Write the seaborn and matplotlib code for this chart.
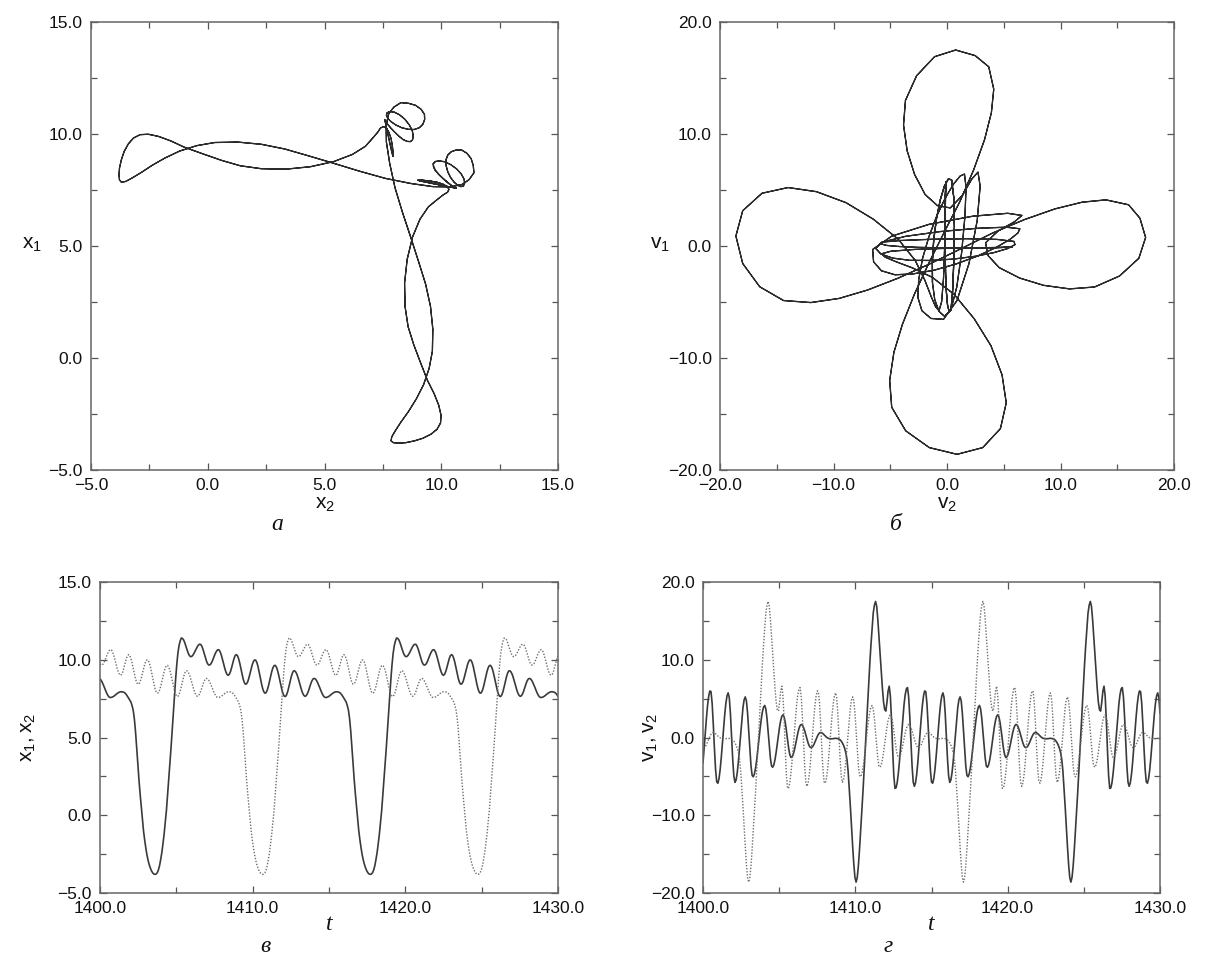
import numpy as np
import matplotlib
matplotlib.use("Agg")
import matplotlib.pyplot as plt
from matplotlib.ticker import MultipleLocator, FuncFormatter
import seaborn as sns

# ---------------- data ----------------
t_start, t_step, n_pts = 1400.0, 0.075, 401
t = np.round(t_start + t_step * np.arange(n_pts), 4)

x1 = [8.77, 8.68, 8.54, 8.37, 8.19, 8.0, 7.83, 7.69, 7.6, 7.57,
      7.58, 7.61, 7.65, 7.71, 7.77, 7.83, 7.88, 7.92, 7.94, 7.94,
      7.93, 7.9, 7.85, 7.76, 7.65, 7.53, 7.4, 7.28, 7.05, 6.75,
      6.2, 5.4, 4.4, 3.35, 2.3, 1.4, 0.6, -0.2, -1.0, -1.58,
      -2.1, -2.55, -2.9, -3.18, -3.4, -3.58, -3.7, -3.78,
      -3.8, -3.78, -3.7, -3.52, -3.25, -2.85, -2.4, -1.83, -1.2, -0.47,
      0.3, 1.28, 2.3, 3.3, 4.3, 5.4, 6.5, 7.6, 8.7, 9.65,
      10.4, 10.9, 11.2, 11.4, 11.37, 11.28, 11.1, 10.88, 10.65, 10.43,
      10.28, 10.2, 10.21, 10.28, 10.4, 10.55, 10.7, 10.84, 10.95, 11.0,
      10.98, 10.86, 10.66, 10.41, 10.15, 9.91, 9.74, 9.66, 9.67, 9.75,
      9.9, 10.09, 10.28, 10.45, 10.58, 10.65, 10.63, 10.5, 10.29, 10.02,
      9.73, 9.44, 9.21, 9.05, 9.0, 9.07, 9.25, 9.51, 9.8, 10.07,
      10.26, 10.33, 10.27, 10.08, 9.8, 9.45, 9.09, 8.77, 8.54, 8.43,
      8.45, 8.58, 8.82, 9.11, 9.41, 9.69, 9.89, 9.99, 9.97, 9.82,
      9.56, 9.22, 8.85, 8.48, 8.17, 7.95, 7.85, 7.88, 8.03, 8.28,
      8.59, 8.93, 9.24, 9.48, 9.62, 9.64, 9.54, 9.33, 9.03, 8.69,
      8.34, 8.02, 7.79, 7.65, 7.64, 7.75, 7.97, 8.27, 8.6, 8.9,
      9.14, 9.28, 9.29, 9.21, 9.06, 8.84, 8.58, 8.31, 8.06, 7.85,
      7.71, 7.65, 7.68, 7.8, 7.98, 8.21, 8.44, 8.63, 8.76, 8.8,
      8.77, 8.68, 8.54, 8.37, 8.19, 8.0, 7.83, 7.69, 7.6, 7.57,
      7.58, 7.61, 7.65, 7.71, 7.77, 7.83, 7.88, 7.92, 7.94, 7.94,
      7.93, 7.9, 7.85, 7.76, 7.65, 7.53, 7.4, 7.28, 7.05, 6.75,
      6.2, 5.4, 4.4, 3.35, 2.3, 1.4, 0.6, -0.2, -1.0, -1.58,
      -2.1, -2.55, -2.9, -3.18, -3.4, -3.58, -3.7, -3.78,
      -3.8, -3.78, -3.7, -3.52, -3.25, -2.85, -2.4, -1.83, -1.2, -0.47,
      0.3, 1.28, 2.3, 3.3, 4.3, 5.4, 6.5, 7.6, 8.7, 9.65,
      10.4, 10.9, 11.2, 11.4, 11.37, 11.28, 11.1, 10.88, 10.65, 10.43,
      10.28, 10.2, 10.21, 10.28, 10.4, 10.55, 10.7, 10.84, 10.95, 11.0,
      10.98, 10.86, 10.66, 10.41, 10.15, 9.91, 9.74, 9.66, 9.67, 9.75,
      9.9, 10.09, 10.28, 10.45, 10.58, 10.65, 10.63, 10.5, 10.29, 10.02,
      9.73, 9.44, 9.21, 9.05, 9.0, 9.07, 9.25, 9.51, 9.8, 10.07,
      10.26, 10.33, 10.27, 10.08, 9.8, 9.45, 9.09, 8.77, 8.54, 8.43,
      8.45, 8.58, 8.82, 9.11, 9.41, 9.69, 9.89, 9.99, 9.97, 9.82,
      9.56, 9.22, 8.85, 8.48, 8.17, 7.95, 7.85, 7.88, 8.03, 8.28,
      8.59, 8.93, 9.24, 9.48, 9.62, 9.64, 9.54, 9.33, 9.03, 8.69,
      8.34, 8.02, 7.79, 7.65, 7.64, 7.75, 7.97, 8.27, 8.6, 8.9,
      9.14, 9.28, 9.29, 9.21, 9.06, 8.84, 8.58, 8.31, 8.06, 7.85,
      7.71, 7.65, 7.68, 7.8, 7.98, 8.21, 8.44, 8.63, 8.76, 8.8,
      8.77, 8.68, 8.54, 8.37, 8.19, 8.0, 7.83, 7.69, 7.6, 7.57,
      7.58, 7.61, 7.65, 7.71, 7.77, 7.83, 7.88, 7.92, 7.94, 7.94,
      7.93, 7.9, 7.85, 7.76, 7.65]

x2 = [9.74, 9.66, 9.67, 9.75,
      9.9, 10.09, 10.28, 10.45, 10.58, 10.65, 10.63, 10.5, 10.29, 10.02,
      9.73, 9.44, 9.21, 9.05, 9.0, 9.07, 9.25, 9.51, 9.8, 10.07,
      10.26, 10.33, 10.27, 10.08, 9.8, 9.45, 9.09, 8.77, 8.54, 8.43,
      8.45, 8.58, 8.82, 9.11, 9.41, 9.69, 9.89, 9.99, 9.97, 9.82,
      9.56, 9.22, 8.85, 8.48, 8.17, 7.95, 7.85, 7.88, 8.03, 8.28,
      8.59, 8.93, 9.24, 9.48, 9.62, 9.64, 9.54, 9.33, 9.03, 8.69,
      8.34, 8.02, 7.79, 7.65, 7.64, 7.75, 7.97, 8.27, 8.6, 8.9,
      9.14, 9.28, 9.29, 9.21, 9.06, 8.84, 8.58, 8.31, 8.06, 7.85,
      7.71, 7.65, 7.68, 7.8, 7.98, 8.21, 8.44, 8.63, 8.76, 8.8,
      8.77, 8.68, 8.54, 8.37, 8.19, 8.0, 7.83, 7.69, 7.6, 7.57,
      7.58, 7.61, 7.65, 7.71, 7.77, 7.83, 7.88, 7.92, 7.94, 7.94,
      7.93, 7.9, 7.85, 7.76, 7.65, 7.53, 7.4, 7.28, 7.05, 6.75,
      6.2, 5.4, 4.4, 3.35, 2.3, 1.4, 0.6, -0.2, -1.0, -1.58,
      -2.1, -2.55, -2.9, -3.18, -3.4, -3.58, -3.7, -3.78,
      -3.8, -3.78, -3.7, -3.52, -3.25, -2.85, -2.4, -1.83, -1.2, -0.47,
      0.3, 1.28, 2.3, 3.3, 4.3, 5.4, 6.5, 7.6, 8.7, 9.65,
      10.4, 10.9, 11.2, 11.4, 11.37, 11.28, 11.1, 10.88, 10.65, 10.43,
      10.28, 10.2, 10.21, 10.28, 10.4, 10.55, 10.7, 10.84, 10.95, 11.0,
      10.98, 10.86, 10.66, 10.41, 10.15, 9.91, 9.74, 9.66, 9.67, 9.75,
      9.9, 10.09, 10.28, 10.45, 10.58, 10.65, 10.63, 10.5, 10.29, 10.02,
      9.73, 9.44, 9.21, 9.05, 9.0, 9.07, 9.25, 9.51, 9.8, 10.07,
      10.26, 10.33, 10.27, 10.08, 9.8, 9.45, 9.09, 8.77, 8.54, 8.43,
      8.45, 8.58, 8.82, 9.11, 9.41, 9.69, 9.89, 9.99, 9.97, 9.82,
      9.56, 9.22, 8.85, 8.48, 8.17, 7.95, 7.85, 7.88, 8.03, 8.28,
      8.59, 8.93, 9.24, 9.48, 9.62, 9.64, 9.54, 9.33, 9.03, 8.69,
      8.34, 8.02, 7.79, 7.65, 7.64, 7.75, 7.97, 8.27, 8.6, 8.9,
      9.14, 9.28, 9.29, 9.21, 9.06, 8.84, 8.58, 8.31, 8.06, 7.85,
      7.71, 7.65, 7.68, 7.8, 7.98, 8.21, 8.44, 8.63, 8.76, 8.8,
      8.77, 8.68, 8.54, 8.37, 8.19, 8.0, 7.83, 7.69, 7.6, 7.57,
      7.58, 7.61, 7.65, 7.71, 7.77, 7.83, 7.88, 7.92, 7.94, 7.94,
      7.93, 7.9, 7.85, 7.76, 7.65, 7.53, 7.4, 7.28, 7.05, 6.75,
      6.2, 5.4, 4.4, 3.35, 2.3, 1.4, 0.6, -0.2, -1.0, -1.58,
      -2.1, -2.55, -2.9, -3.18, -3.4, -3.58, -3.7, -3.78,
      -3.8, -3.78, -3.7, -3.52, -3.25, -2.85, -2.4, -1.83, -1.2, -0.47,
      0.3, 1.28, 2.3, 3.3, 4.3, 5.4, 6.5, 7.6, 8.7, 9.65,
      10.4, 10.9, 11.2, 11.4, 11.37, 11.28, 11.1, 10.88, 10.65, 10.43,
      10.28, 10.2, 10.21, 10.28, 10.4, 10.55, 10.7, 10.84, 10.95, 11.0,
      10.98, 10.86, 10.66, 10.41, 10.15, 9.91, 9.74, 9.66, 9.67, 9.75,
      9.9, 10.09, 10.28, 10.45, 10.58, 10.65, 10.63, 10.5, 10.29, 10.02,
      9.73, 9.44, 9.21, 9.05, 9.0, 9.07, 9.25, 9.51, 9.8, 10.07,
      10.26]

v1 = [-3.27, -1.42, 0.56, 2.48, 4.13, 5.34,
      5.99, 5.9, 4.39, 1.73, -1.39, -4.11, -5.71, -5.88, -5.3, -4.15,
      -2.57, -0.74, 1.16, 2.92, 4.37, 5.34, 5.74, 5.13, 3.09, 0.19,
      -2.77, -4.96, -5.77, -5.44, -4.5, -3.06, -1.29, 0.61, 2.4, 3.87,
      4.85, 5.22, 4.71, 3.15, 0.89, -1.56, -3.64, -4.87, -5.05, -4.68,
      -3.93, -2.87, -1.59, -0.21, 1.15, 2.35, 3.31, 3.91, 4.12, 3.68,
      2.48, 0.76, -1.1, -2.68, -3.66, -3.83, -3.51, -2.86, -1.93, -0.84,
      0.29, 1.34, 2.18, 2.73, 2.92, 2.66, 1.94, 0.88, -0.31, -1.41,
      -2.21, -2.57, -2.49, -2.16, -1.6, -0.91, -0.15, 0.57, 1.16, 1.54,
      1.68, 1.58, 1.29, 0.86, 0.33, -0.22, -0.71, -1.08, -1.28, -1.29,
      -1.17, -0.92, -0.59, -0.23, 0.12, 0.41, 0.59, 0.65, 0.6, 0.49,
      0.35, 0.2, 0.05, -0.05, -0.12, -0.16, -0.17, -0.16, -0.15, -0.12,
      -0.1, -0.12, -0.15, -0.2, -0.3, -0.47, -0.7, -1.0, -1.4, -1.95,
      -2.8, -4.3, -6.5, -8.9, -11.5, -14.0, -16.3, -18.0,
      -18.6, -18.0, -16.5, -14.4, -12.0, -9.5, -7.0, -4.3, -1.5, 1.3,
      4.0, 6.8, 9.5, 11.9, 14.0, 16.0, 17.0, 17.5, 16.9, 15.2,
      13.0, 10.8, 8.5, 6.4, 4.6, 3.6, 3.4, 4.5, 5.97, 6.6,
      5.34, 2.27, -1.56, -4.87, -6.55, -6.47, -5.78, -4.58, -2.99, -1.13,
      0.81, 2.66, 4.29, 5.52, 6.25, 6.42, 5.22, 2.65, -0.59, -3.67,
      -5.74, -6.28, -5.83, -4.79, -3.27, -1.42, 0.56, 2.48, 4.13, 5.34,
      5.99, 5.9, 4.39, 1.73, -1.39, -4.11, -5.71, -5.88, -5.3, -4.15,
      -2.57, -0.74, 1.16, 2.92, 4.37, 5.34, 5.74, 5.13, 3.09, 0.19,
      -2.77, -4.96, -5.77, -5.44, -4.5, -3.06, -1.29, 0.61, 2.4, 3.87,
      4.85, 5.22, 4.71, 3.15, 0.89, -1.56, -3.64, -4.87, -5.05, -4.68,
      -3.93, -2.87, -1.59, -0.21, 1.15, 2.35, 3.31, 3.91, 4.12, 3.68,
      2.48, 0.76, -1.1, -2.68, -3.66, -3.83, -3.51, -2.86, -1.93, -0.84,
      0.29, 1.34, 2.18, 2.73, 2.92, 2.66, 1.94, 0.88, -0.31, -1.41,
      -2.21, -2.57, -2.49, -2.16, -1.6, -0.91, -0.15, 0.57, 1.16, 1.54,
      1.68, 1.58, 1.29, 0.86, 0.33, -0.22, -0.71, -1.08, -1.28, -1.29,
      -1.17, -0.92, -0.59, -0.23, 0.12, 0.41, 0.59, 0.65, 0.6, 0.49,
      0.35, 0.2, 0.05, -0.05, -0.12, -0.16, -0.17, -0.16, -0.15, -0.12,
      -0.1, -0.12, -0.15, -0.2, -0.3, -0.47, -0.7, -1.0, -1.4, -1.95,
      -2.8, -4.3, -6.5, -8.9, -11.5, -14.0, -16.3, -18.0,
      -18.6, -18.0, -16.5, -14.4, -12.0, -9.5, -7.0, -4.3, -1.5, 1.3,
      4.0, 6.8, 9.5, 11.9, 14.0, 16.0, 17.0, 17.5, 16.9, 15.2,
      13.0, 10.8, 8.5, 6.4, 4.6, 3.6, 3.4, 4.5, 5.97, 6.6,
      5.34, 2.27, -1.56, -4.87, -6.55, -6.47, -5.78, -4.58, -2.99, -1.13,
      0.81, 2.66, 4.29, 5.52, 6.25, 6.42, 5.22, 2.65, -0.59, -3.67,
      -5.74, -6.28, -5.83, -4.79, -3.27, -1.42, 0.56, 2.48, 4.13, 5.34,
      5.99, 5.9, 4.39, 1.73, -1.39, -4.11, -5.71, -5.88, -5.3, -4.15,
      -2.57, -0.74, 1.16, 2.92, 4.37, 5.34, 5.74, 5.13, 3.09]

v2 = [-1.28, -1.29,
      -1.17, -0.92, -0.59, -0.23, 0.12, 0.41, 0.59, 0.65, 0.6, 0.49,
      0.35, 0.2, 0.05, -0.05, -0.12, -0.16, -0.17, -0.16, -0.15, -0.12,
      -0.1, -0.12, -0.15, -0.2, -0.3, -0.47, -0.7, -1.0, -1.4, -1.95,
      -2.8, -4.3, -6.5, -8.9, -11.5, -14.0, -16.3, -18.0,
      -18.6, -18.0, -16.5, -14.4, -12.0, -9.5, -7.0, -4.3, -1.5, 1.3,
      4.0, 6.8, 9.5, 11.9, 14.0, 16.0, 17.0, 17.5, 16.9, 15.2,
      13.0, 10.8, 8.5, 6.4, 4.6, 3.6, 3.4, 4.5, 5.97, 6.6,
      5.34, 2.27, -1.56, -4.87, -6.55, -6.47, -5.78, -4.58, -2.99, -1.13,
      0.81, 2.66, 4.29, 5.52, 6.25, 6.42, 5.22, 2.65, -0.59, -3.67,
      -5.74, -6.28, -5.83, -4.79, -3.27, -1.42, 0.56, 2.48, 4.13, 5.34,
      5.99, 5.9, 4.39, 1.73, -1.39, -4.11, -5.71, -5.88, -5.3, -4.15,
      -2.57, -0.74, 1.16, 2.92, 4.37, 5.34, 5.74, 5.13, 3.09, 0.19,
      -2.77, -4.96, -5.77, -5.44, -4.5, -3.06, -1.29, 0.61, 2.4, 3.87,
      4.85, 5.22, 4.71, 3.15, 0.89, -1.56, -3.64, -4.87, -5.05, -4.68,
      -3.93, -2.87, -1.59, -0.21, 1.15, 2.35, 3.31, 3.91, 4.12, 3.68,
      2.48, 0.76, -1.1, -2.68, -3.66, -3.83, -3.51, -2.86, -1.93, -0.84,
      0.29, 1.34, 2.18, 2.73, 2.92, 2.66, 1.94, 0.88, -0.31, -1.41,
      -2.21, -2.57, -2.49, -2.16, -1.6, -0.91, -0.15, 0.57, 1.16, 1.54,
      1.68, 1.58, 1.29, 0.86, 0.33, -0.22, -0.71, -1.08, -1.28, -1.29,
      -1.17, -0.92, -0.59, -0.23, 0.12, 0.41, 0.59, 0.65, 0.6, 0.49,
      0.35, 0.2, 0.05, -0.05, -0.12, -0.16, -0.17, -0.16, -0.15, -0.12,
      -0.1, -0.12, -0.15, -0.2, -0.3, -0.47, -0.7, -1.0, -1.4, -1.95,
      -2.8, -4.3, -6.5, -8.9, -11.5, -14.0, -16.3, -18.0,
      -18.6, -18.0, -16.5, -14.4, -12.0, -9.5, -7.0, -4.3, -1.5, 1.3,
      4.0, 6.8, 9.5, 11.9, 14.0, 16.0, 17.0, 17.5, 16.9, 15.2,
      13.0, 10.8, 8.5, 6.4, 4.6, 3.6, 3.4, 4.5, 5.97, 6.6,
      5.34, 2.27, -1.56, -4.87, -6.55, -6.47, -5.78, -4.58, -2.99, -1.13,
      0.81, 2.66, 4.29, 5.52, 6.25, 6.42, 5.22, 2.65, -0.59, -3.67,
      -5.74, -6.28, -5.83, -4.79, -3.27, -1.42, 0.56, 2.48, 4.13, 5.34,
      5.99, 5.9, 4.39, 1.73, -1.39, -4.11, -5.71, -5.88, -5.3, -4.15,
      -2.57, -0.74, 1.16, 2.92, 4.37, 5.34, 5.74, 5.13, 3.09, 0.19,
      -2.77, -4.96, -5.77, -5.44, -4.5, -3.06, -1.29, 0.61, 2.4, 3.87,
      4.85, 5.22, 4.71, 3.15, 0.89, -1.56, -3.64, -4.87, -5.05, -4.68,
      -3.93, -2.87, -1.59, -0.21, 1.15, 2.35, 3.31, 3.91, 4.12, 3.68,
      2.48, 0.76, -1.1, -2.68, -3.66, -3.83, -3.51, -2.86, -1.93, -0.84,
      0.29, 1.34, 2.18, 2.73, 2.92, 2.66, 1.94, 0.88, -0.31, -1.41,
      -2.21, -2.57, -2.49, -2.16, -1.6, -0.91, -0.15, 0.57, 1.16, 1.54,
      1.68, 1.58, 1.29, 0.86, 0.33, -0.22, -0.71, -1.08, -1.28, -1.29,
      -1.17, -0.92, -0.59, -0.23, 0.12, 0.41, 0.59, 0.65, 0.6, 0.49,
      0.35, 0.2, 0.05, -0.05, -0.12, -0.16, -0.17, -0.16, -0.15, -0.12,
      -0.1, -0.12, -0.15]

panel_letters = ["а", "б", "в", "г"]

for name, arr in [("x1", x1), ("x2", x2), ("v1", v1), ("v2", v2)]:
    assert len(arr) == n_pts, (name, len(arr))

# ---------------- style ----------------
sns.set_theme(style="ticks")
plt.rcParams["font.family"] = ["Liberation Sans", "DejaVu Sans"]
plt.rcParams["mathtext.fontset"] = "custom"
plt.rcParams["mathtext.rm"] = "Liberation Sans"
plt.rcParams["axes.linewidth"] = 1.0

W, H = 1205, 960
fig = plt.figure(figsize=(W / 100, H / 100), dpi=100)


def box(x0, y0, x1_, y1_):
    return [x0 / W, 1 - y1_ / H, (x1_ - x0) / W, (y1_ - y0) / H]


axA = fig.add_axes(box(91, 22, 558, 470))
axB = fig.add_axes(box(720, 22, 1174, 470))
axC = fig.add_axes(box(100, 582, 558, 893))
axD = fig.add_axes(box(703, 582, 1160, 893))

fmt = FuncFormatter(lambda v, _: ("%.1f" % (v + 0.0)).replace("-", "\u2212"))

line_col = "#2b2b2b"
dot_col = "#6e6e6e"

# phase portraits
sns.lineplot(x=x2, y=x1, sort=False, estimator=None, ax=axA,
             color=line_col, linewidth=0.9)
sns.lineplot(x=v2, y=v1, sort=False, estimator=None, ax=axB,
             color=line_col, linewidth=0.9)

# time series
sns.lineplot(x=t, y=x1, ax=axC, color="#3a3a3a", linewidth=1.2)
sns.lineplot(x=t, y=x2, ax=axC, color=dot_col, linewidth=1.0, linestyle=(0, (1, 1.2)))
sns.lineplot(x=t, y=v1, ax=axD, color="#3a3a3a", linewidth=1.2)
sns.lineplot(x=t, y=v2, ax=axD, color=dot_col, linewidth=1.0, linestyle=(0, (1, 1.2)))

cfg = [
    (axA, (-5, 15), (-5, 15), 5, 2.5, 5, 2.5),
    (axB, (-20, 20), (-20, 20), 10, 5, 10, 5),
    (axC, (1400, 1430), (-5, 15), 10, 5, 5, 2.5),
    (axD, (1400, 1430), (-20, 20), 10, 5, 10, 5),
]
for ax, xl, yl, xM, xm, yM, ym in cfg:
    ax.set_xlim(*xl)
    ax.set_ylim(*yl)
    ax.xaxis.set_major_locator(MultipleLocator(xM))
    ax.xaxis.set_minor_locator(MultipleLocator(xm))
    ax.yaxis.set_major_locator(MultipleLocator(yM))
    ax.yaxis.set_minor_locator(MultipleLocator(ym))
    ax.xaxis.set_major_formatter(fmt)
    ax.yaxis.set_major_formatter(fmt)
    ax.tick_params(which="both", direction="in", top=True, right=True,
                   color="#555555", labelsize=12.5, labelcolor="#111111")
    ax.tick_params(which="major", length=5, width=0.9, pad=6)
    ax.tick_params(which="minor", length=4, width=0.9)
    ax.set_xlabel("")
    ax.set_ylabel("")
    for s in ax.spines.values():
        s.set_color("#666666")
        s.set_linewidth(1.1)
        s.set_visible(True)


def ftxt(x, y, s, **kw):
    fig.text(x / W, 1 - y / H, s, ha="center", va="center", **kw)


lab_kw = dict(fontsize=15, color="#111111")
ftxt(325, 505, r"$\mathregular{x_2}$", **lab_kw)
ftxt(947, 505, r"$\mathregular{v_2}$", **lab_kw)
ftxt(32, 244, r"$\mathregular{x_1}$", **lab_kw)
ftxt(660, 244, r"$\mathregular{v_1}$", **lab_kw)
ftxt(28, 737, r"$\mathregular{x_1,x_2}$", rotation=90, **lab_kw)
ftxt(650, 737, r"$\mathregular{v_1,v_2}$", rotation=90, **lab_kw)

serif_kw = dict(fontsize=17, style="italic", family=["Liberation Serif", "DejaVu Serif"],
                color="#111111")
ftxt(329, 925, "t", **serif_kw)
ftxt(931, 925, "t", **serif_kw)
ftxt(277, 524, panel_letters[0], **serif_kw)
ftxt(896, 524, panel_letters[1], **serif_kw)
ftxt(265, 947, panel_letters[2], **serif_kw)
ftxt(888, 947, panel_letters[3], **serif_kw)

fig.savefig("out.png", dpi=100, facecolor="white")
